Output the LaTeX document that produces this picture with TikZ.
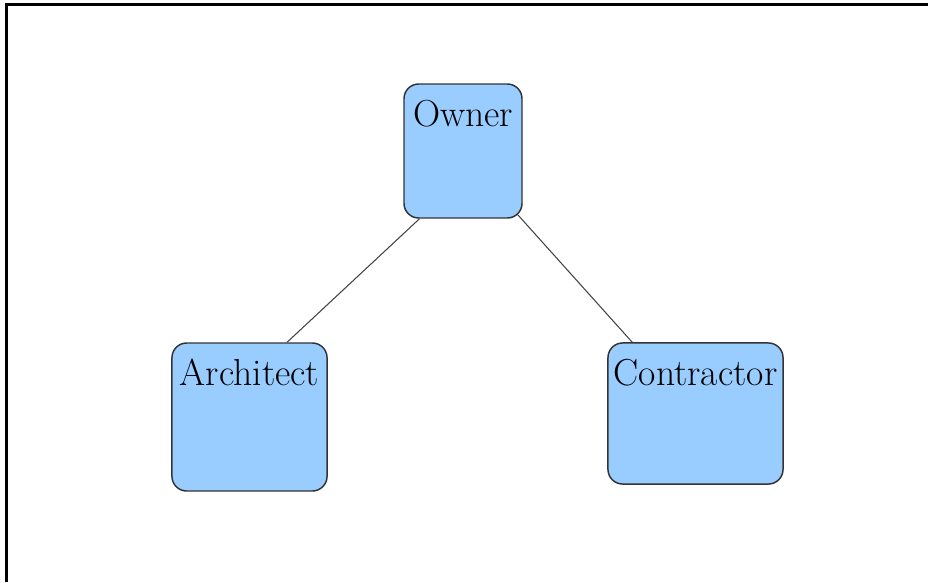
\documentclass[tikz,border=0pt]{standalone}
\usepackage{fontspec}
\usetikzlibrary{calc}
\definecolor{boxfill}{RGB}{153,204,255}
\definecolor{boxline}{RGB}{51,51,51}
\definecolor{edgeline}{RGB}{68,68,68}
\tikzset{
  rolebox/.style={draw=boxline, line width=1.1pt, fill=boxfill, rounded corners=11pt,
    inner sep=0pt, minimum width=#1},
  roletext/.style={anchor=base, label distance=-32.2pt, font=\fontsize{28.2}{30}\selectfont, inner sep=0pt},
  link/.style={draw=edgeline, line width=0.8pt}
}
\begin{document}
\begin{tikzpicture}[x=0.75pt,y=-0.75pt]
\useasboundingbox (0,0) rectangle (928,582);
\draw[line width=2.4pt] (6.5,582) -- (6.5,4.5) -- (928,4.5);
\node[rolebox=88.5pt, minimum height=100.5pt, label={[roletext]north:Owner}] (owner) at (463,151) {};
\node[rolebox=116.3pt, minimum height=111pt, label={[roletext]north:Architect}] (architect) at (249.5,417) {};
\node[rolebox=131.3pt, minimum height=105.8pt, label={[roletext]north:Contractor}] (contractor) at (695.5,413.5) {};
\coordinate (oa) at ($(owner.south west)!0.136!(owner.south east)$);
\coordinate (oc) at ($(owner.south east)+(-5,-4)$);
\coordinate (ao) at ($(architect.north west)!0.74!(architect.north east)$);
\coordinate (co) at ($(contractor.north west)+(25,0)$);
\draw[link] (oa) -- (ao);
\draw[link] (oc) -- (co);
\end{tikzpicture}
\end{document}
